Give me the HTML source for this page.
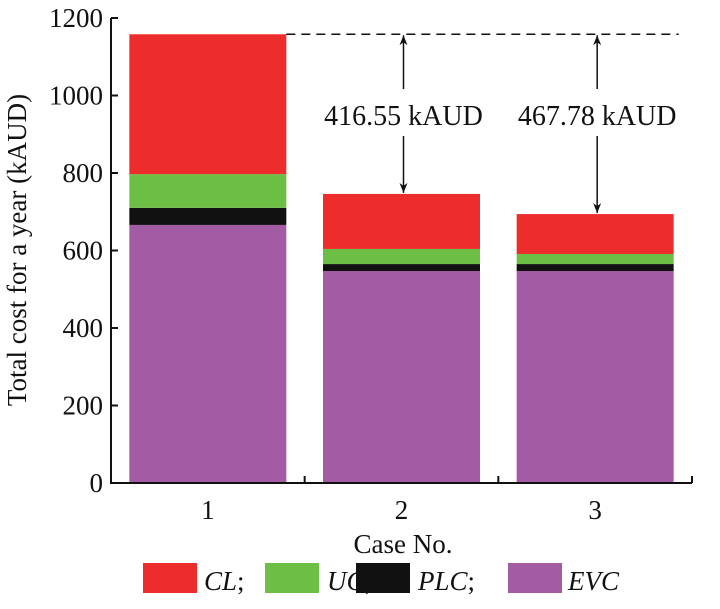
<!DOCTYPE html>
<html><head><meta charset="utf-8"><style>
body{margin:0;background:#fff}
svg text{font-family:"Liberation Serif",serif;fill:#111}
</style></head><body>
<svg width="720" height="604" viewBox="0 0 720 604" xmlns="http://www.w3.org/2000/svg">
<defs><marker id="ah" viewBox="0 0 10 10" refX="10" refY="5" markerWidth="10" markerHeight="10" markerUnits="userSpaceOnUse" orient="auto"><path d="M0,1 L10,5 L0,9 L3,5 Z" fill="#111"/></marker></defs>
<g id="plot"></g>
<text transform="translate(26,250) rotate(-90)" text-anchor="middle" font-size="27">Total cost for a year (kAUD)</text>
<text x="403" y="553" text-anchor="middle" font-size="27">Case No.</text>
<g>
<rect x="143" y="563" width="54" height="30" fill="#ec2d2b"/>
<text x="204" y="590" font-size="27" font-style="italic">CL<tspan font-style="normal">;</tspan></text>
<rect x="265" y="563" width="54" height="30" fill="#6dbe45"/>
<text x="327" y="590" font-size="27" font-style="italic">UC<tspan font-style="normal">;</tspan></text>
<rect x="356" y="563" width="54" height="30" fill="#111"/>
<text x="418" y="590" font-size="27" font-style="italic">PLC<tspan font-style="normal">;</tspan></text>
<rect x="508" y="563" width="54" height="30" fill="#a35ba3"/>
<text x="568" y="590" font-size="27" font-style="italic">EVC</text>
</g>
</svg>
<script>
const categories=["1","2","3"];
const evc=[666,547,547];
const plc=[44,18,18];
const uc=[87,39,26];
const cl=[361,142,103];
const yTicks=[0,200,400,600,800,1000,1200];
const savings=["416.55 kAUD","467.78 kAUD"];
const NS="http://www.w3.org/2000/svg";
const g=document.getElementById('plot');
const x0=111,x1=692,y0=483,y1=18,yMax=1200;
const band=(x1-x0)/categories.length;
const y=v=>y0-(v/yMax)*(y0-y1);
const xc=i=>x0+band*(i+0.5);
const bw=157;
function mk(t,a){const e=document.createElementNS(NS,t);for(const k in a)e.setAttribute(k,a[k]);g.appendChild(e);return e;}
const series=[[evc,'#a35ba3','evc'],[plc,'#111','plc'],[uc,'#6dbe45','uc'],[cl,'#ec2d2b','cl']];
const totals=[];
categories.forEach((c,i)=>{
  let base=0;
  series.forEach(([arr,col,nm])=>{
    const r=mk('rect',{x:xc(i)-bw/2,y:y(base+arr[i]),width:bw,height:y(base)-y(base+arr[i]),fill:col});
    
    
    base+=arr[i];
  });
  totals.push(base);
  const t=mk('text',{x:xc(i),y:y0+36,'text-anchor':'middle','font-size':27});
  t.textContent=c;
  
  
});
// axes
const ax=mk('path',{d:`M${x0},${y1} L${x0},${y0} L${x1},${y0}`,stroke:'#111','stroke-width':2,fill:'none'});


yTicks.forEach(v=>{
  const tk=mk('line',{x1:x0,x2:x0+7,y1:y(v),y2:y(v),stroke:'#111','stroke-width':2});
  
  
  const t=mk('text',{x:x0-8,y:y(v)+9,'text-anchor':'end','font-size':27});
  t.textContent=v;
  
  
});
for(let i=1;i<=categories.length;i++){
  const tk=mk('line',{x1:x0+band*i,x2:x0+band*i,y1:y0,y2:y0-7,stroke:'#111','stroke-width':2});
  
  
}
// reference dashed line
const refY=y(totals[0]);
const d=mk('line',{x1:xc(0)+bw/2,x2:xc(2)+bw/2+5,y1:refY,y2:refY,stroke:'#111','stroke-width':1.5,'stroke-dasharray':'9,6'});


[1,2].forEach((i,k)=>{
  const cx=xc(i)+2;
  const ty=115;
  const a1=mk('line',{x1:cx,x2:cx,y1:ty-26,y2:refY+1,stroke:'#111','stroke-width':1.5,'marker-end':'url(#ah)'});
  
  
  const a2=mk('line',{x1:cx,x2:cx,y1:ty+21,y2:y(totals[i])-1,stroke:'#111','stroke-width':1.5,'marker-end':'url(#ah)'});
  
  
  const t=mk('text',{x:cx,y:ty+10,'text-anchor':'middle','font-size':28});
  t.textContent=savings[k];
  
  
});
</script>
</body></html>
